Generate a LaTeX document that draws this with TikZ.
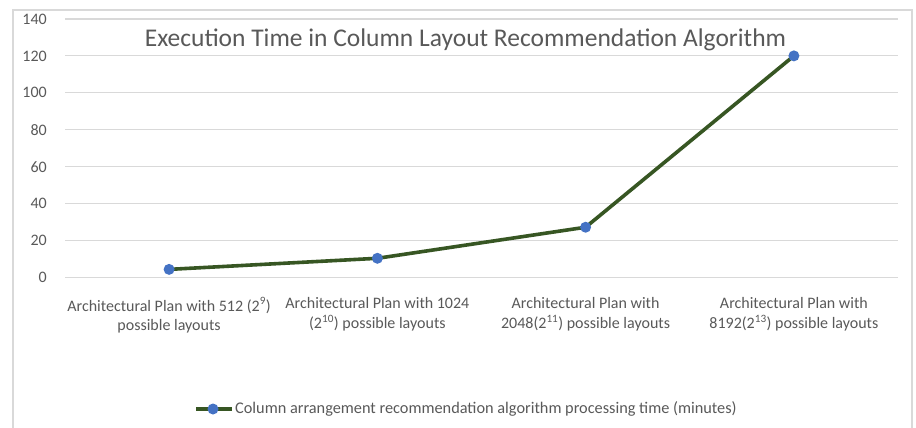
\documentclass[tikz,border=0pt]{standalone}
\usepackage{fontspec}
\setmainfont{Carlito}
\definecolor{txt}{HTML}{595959}
\definecolor{grid}{HTML}{D9D9D9}
\definecolor{serline}{HTML}{375623}
\definecolor{mark}{HTML}{4472C4}
\begin{document}
\begin{tikzpicture}[x=1pt,y=-1pt,
  gridline/.style={draw=grid,line width=1.2pt},
  ticklbl/.style={anchor=east,text=txt,font=\fontsize{16}{19}\selectfont,inner sep=0pt},
  catlbl/.style={anchor=north,align=center,text=txt,font=\fontsize{16}{19.5}\selectfont,inner sep=0pt},
  datapt/.style={circle,fill=mark,minimum size=11pt,inner sep=0pt},
  series/.style={draw=serline,line width=3.6pt,line join=round,line cap=round}]
\useasboundingbox (0,0) rectangle (916,428);
\fill[white] (0,0) rectangle (916,428);
% chart frame
\draw[draw=grid,line width=1.2pt] (13,430) -- (13,10) -- (912,10) -- (912,430);
% gridlines and tick labels
\foreach \v [count=\i from 0] in {0,20,40,60,80,100,120,140}{
  \draw[gridline] (65,{277.7-\i*36.97}) -- (898,{277.7-\i*36.97});
  \node[ticklbl] (t\i) at (47,{277.7-\i*36.97}) {\v};
}
% title
\node[anchor=base,text=txt,font=\fontsize{25.5}{30}\selectfont,inner sep=0pt] (title) at (465.5,47) {Execution Time in Column Layout Recommendation Algorithm};
% category labels
\node[catlbl] (c1) at (169.1,297.5) {Architectural Plan with 512 (2\textsuperscript{9})\\possible layouts};
\node[catlbl] (c2) at (377.4,297.5) {Architectural Plan with 1024\\(2\textsuperscript{10}) possible layouts};
\node[catlbl] (c3) at (585.6,297.5) {Architectural Plan with\\2048(2\textsuperscript{11}) possible layouts};
\node[catlbl] (c4) at (793.9,297.5) {Architectural Plan with\\8192(2\textsuperscript{13}) possible layouts};
% data
\coordinate (p1) at (169.1,{277.7-4.5*1.8486});
\coordinate (p2) at (377.4,{277.7-10.5*1.8486});
\coordinate (p3) at (585.6,{277.7-27.3*1.8486});
\coordinate (p4) at (793.9,{277.7-120*1.8486});
\draw[series] (p1) -- (p2) -- (p3) -- (p4);
\foreach \k in {1,2,3,4}{ \node[datapt] (m\k) at (p\k) {}; }
% legend
\coordinate (la) at (196,409);
\coordinate (lb) at (232,409);
\draw[series,line cap=butt] (la) -- (lb);
\node[datapt] (lm) at (213,409) {};
\node[anchor=west,text=txt,font=\fontsize{16.3}{19}\selectfont,inner sep=0pt] (leg) at (235,409) {Column arrangement recommendation algorithm processing time (minutes)};
\end{tikzpicture}
\end{document}
